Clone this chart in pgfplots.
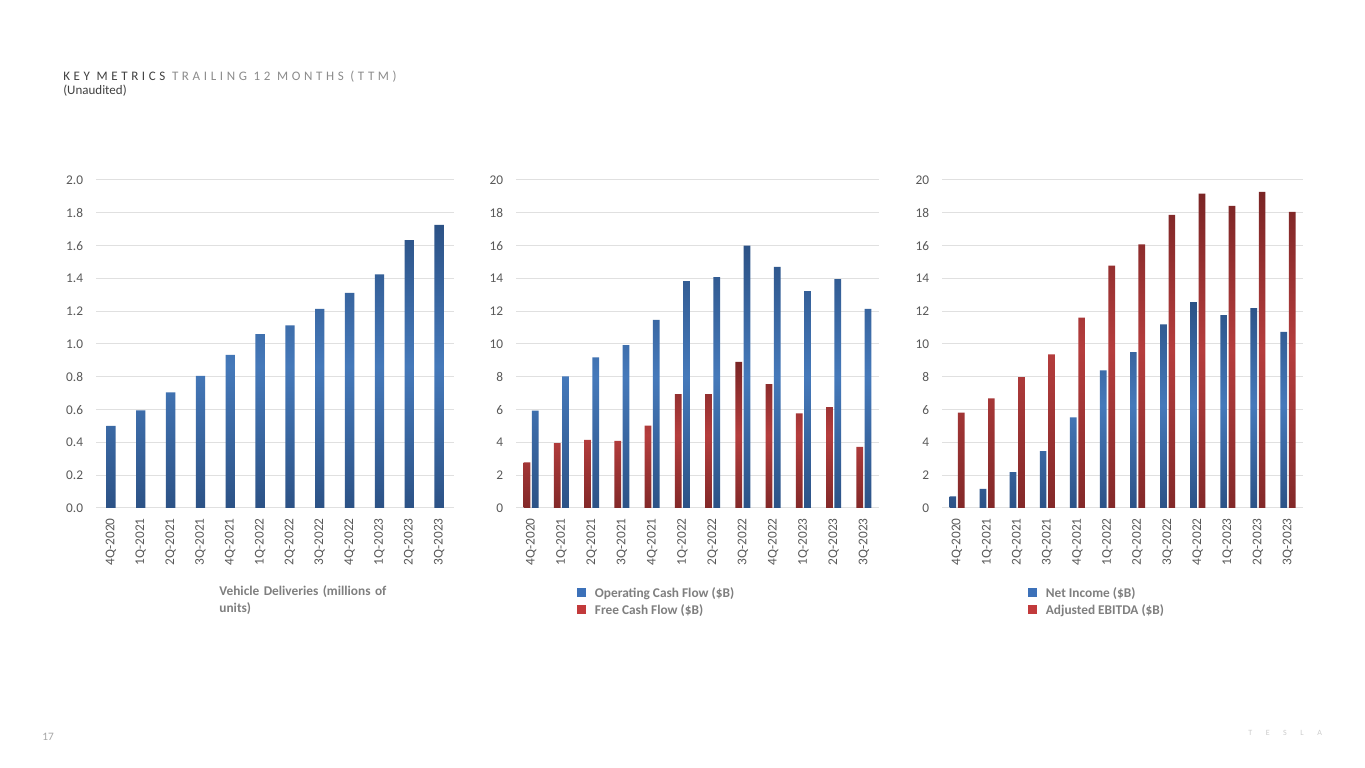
\documentclass[border=0pt]{standalone}
\usepackage{fontspec}
\setmainfont{Carlito}
\usepackage{pgfplots}
\pgfplotsset{compat=1.18}
\definecolor{tickgray}{HTML}{595959}
\definecolor{gridgray}{HTML}{E0E0E0}
\definecolor{labgray}{HTML}{7F7F7F}
\definecolor{titledark}{HTML}{404040}
\definecolor{titlelight}{HTML}{8C8C8C}
\definecolor{bdark}{HTML}{2C5286}
\definecolor{blight}{HTML}{4579BA}
\definecolor{rdark}{HTML}{7A2525}
\definecolor{rlight}{HTML}{B53D3D}
\definecolor{legblue}{HTML}{3C71B9}
\definecolor{legred}{HTML}{C23A3B}

\pgfplotsset{
  kpanel/.style={
    scale only axis, height=246pt,
    ymin=0, xmin=-0.5, xmax=11.5,
    axis line style={draw=none},
    major tick length=0pt,
    ymajorgrids, grid style={gridgray, line width=0.75pt},
    xtick={0,1,2,3,4,5,6,7,8,9,10,11},
    xticklabels={4Q-2020,1Q-2021,2Q-2021,3Q-2021,4Q-2021,1Q-2022,2Q-2022,3Q-2022,4Q-2022,1Q-2023,2Q-2023,3Q-2023},
    tick label style={font=\fontsize{10}{12}\selectfont, text=tickgray, inner sep=0pt},
    xticklabel style={rotate=90, anchor=east},
    xticklabel shift=7.5pt,
    yticklabel shift=9.5pt,
    /pgf/number format/assume math mode=true,
    clip=false,
    legend style={draw=none, fill=none, inner sep=0pt, font=\fontsize{10}{12}\selectfont\bfseries, text=labgray, row sep=3pt, column sep=6.75pt, anchor=north west, nodes={inner sep=0pt, text height=7.5pt, text depth=2.25pt, anchor=west}},
    legend cell align=left,
    legend image code/.code={\fill[##1, draw=none] (0pt,-2.1pt) rectangle (6.5pt,4.4pt);},
  },
  bluebar/.style={draw=none, top color=bdark, bottom color=bdark, middle color=blight},
  redbar/.style={draw=none, top color=rdark, bottom color=rdark!85!rlight, middle color=rlight},
}

\begin{document}
\begin{tikzpicture}
\fill[white] (0,0) rectangle (1023.75pt,576pt);

% Title
\node[anchor=base west, inner sep=0pt, font=\fontsize{9.75}{12}\selectfont] at (47.25pt,515.5pt)
  {\addfontfeature{LetterSpace=28}\textcolor{titledark}{KEY METRICS} \textcolor{titlelight}{TRAILING 12 MONTHS (TTM)}};
\node[anchor=base west, inner sep=0pt, font=\fontsize{9.75}{12}\selectfont, text=titledark] at (47.25pt,505.3pt) {(Unaudited)};
\node[anchor=base west, inner sep=0pt, font=\fontsize{8.5}{10}\selectfont, text=black!35] at (31.5pt,20.5pt) {17};
\node[anchor=base west, inner sep=0pt, font=\fontsize{6}{7}\selectfont, text=black!20] at (936pt,24.5pt) {\addfontfeature{LetterSpace=170}TESLA};

% Panel 1: Vehicle deliveries
\begin{axis}[kpanel, at={(72pt,195pt)}, anchor=south west, width=268.5pt,
  ymax=2.0, ytick={0,0.2,0.4,0.6,0.8,1.0,1.2,1.4,1.6,1.8,2.0},
  yticklabel style={/pgf/number format/fixed, /pgf/number format/fixed zerofill, /pgf/number format/precision=1},
  xlabel={Vehicle Deliveries (millions of units)},
  xlabel style={at={(axis description cs:0.344,-0.235)}, anchor=north west, text width=140pt, align=left,
    font=\fontsize{10}{12.75}\selectfont\bfseries, text=labgray, inner sep=0pt}]
\addplot[ybar, bar width=7pt, bar shift=0pt, bluebar] coordinates {(0,0.50) (1,0.595) (2,0.705) (3,0.806) (4,0.934) (5,1.060) (6,1.113) (7,1.214) (8,1.312) (9,1.425) (10,1.634) (11,1.726)};
\end{axis}

% Panel 2: Cash flow
\begin{axis}[kpanel, at={(387pt,195pt)}, anchor=south west, width=272.25pt,
  ymax=20, ytick={0,2,4,6,8,10,12,14,16,18,20},
  legend style={at={(axis description cs:0.168,-0.241)}}]
\addplot[ybar, bar width=5pt, bar shift=-3.15pt, redbar, forget plot] coordinates {(0,2.78) (1,3.96) (2,4.16) (3,4.10) (4,5.02) (5,6.94) (6,6.94) (7,8.91) (8,7.55) (9,5.77) (10,6.15) (11,3.72)};
\addplot[ybar, bar width=5pt, bar shift=3.15pt, bluebar, forget plot] coordinates {(0,5.93) (1,8.02) (2,9.18) (3,9.93) (4,11.47) (5,13.83) (6,14.07) (7,16.00) (8,14.70) (9,13.22) (10,13.95) (11,12.14)};
\addlegendimage{fill=legblue, draw=none}
\addlegendentry{Operating Cash Flow (\$B)}
\addlegendimage{fill=legred, draw=none}
\addlegendentry{Free Cash Flow (\$B)}
\end{axis}

% Panel 3: Net income / EBITDA
\begin{axis}[kpanel, at={(706.5pt,195pt)}, anchor=south west, width=270.75pt,
  ymax=20, ytick={0,2,4,6,8,10,12,14,16,18,20},
  legend style={at={(axis description cs:0.238,-0.241)}}]
\addplot[ybar, bar width=5pt, bar shift=-3.15pt, bluebar, forget plot] coordinates {(0,0.71) (1,1.16) (2,2.19) (3,3.47) (4,5.52) (5,8.39) (6,9.50) (7,11.19) (8,12.55) (9,11.76) (10,12.18) (11,10.74)};
\addplot[ybar, bar width=5pt, bar shift=3.15pt, redbar, forget plot] coordinates {(0,5.81) (1,6.68) (2,7.98) (3,9.36) (4,11.61) (5,14.78) (6,16.08) (7,17.87) (8,19.17) (9,18.42) (10,19.27) (11,18.05)};
\addlegendimage{fill=legblue, draw=none}
\addlegendentry{Net Income (\$B)}
\addlegendimage{fill=legred, draw=none}
\addlegendentry{Adjusted EBITDA (\$B)}
\end{axis}

\pgfresetboundingbox
\path[use as bounding box] (0,0) rectangle (1023.75pt,576pt);
\end{tikzpicture}
\end{document}
